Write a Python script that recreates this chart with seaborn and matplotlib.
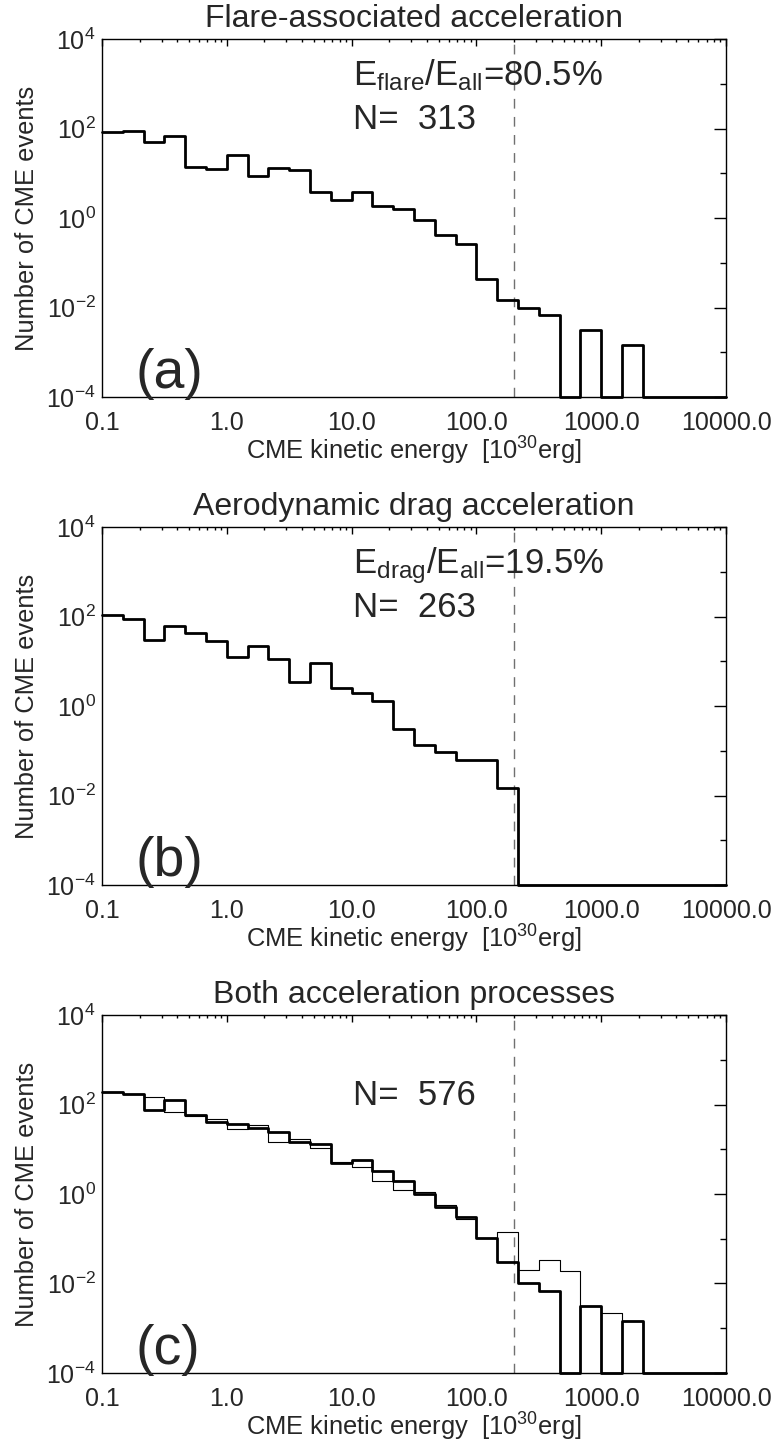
import numpy as np
import matplotlib
matplotlib.use("Agg")
import matplotlib.pyplot as plt
import seaborn as sns
from matplotlib.ticker import FixedLocator, FixedFormatter, LogLocator, NullFormatter

# energy bins, 6 per decade, in 10^30 erg
edges = [0.1, 0.1468, 0.2154, 0.3162, 0.4642, 0.6813,
         1.0, 1.468, 2.154, 3.162, 4.642, 6.813,
         10.0, 14.68, 21.54, 31.62, 46.42, 68.13,
         100.0, 146.8, 215.4, 316.2, 464.2, 681.3,
         1000.0, 1468.0, 2154.0, 3162.0, 4642.0, 6813.0, 10000.0]

# (a) flare-associated
flare_vals = [83, 87, 49.5, 68.5, 13.9, 12.6, 26, 8.6, 13.2, 11.9,
              3.8, 2.5, 3.9, 1.9, 1.6, 0.9, 0.42, 0.26, 0.0435, 0.0144,
              0.010, 0.0067, 0, 0.0031, 0, 0.00144, 0, 0, 0, 0]
# (b) aerodynamic drag
drag_vals = [107, 88.7, 30, 62.8, 42.3, 28.5, 12.7, 22.4, 11.2, 3.4,
             9.3, 2.5, 1.96, 1.32, 0.30, 0.134, 0.092, 0.063, 0.062, 0.0146,
             0, 0, 0, 0, 0, 0, 0, 0, 0, 0]
# (c) both, thick and thin
both_vals = [186, 174, 77.3, 129, 58.8, 41, 37.6, 30.6, 24, 14.9,
             12.9, 4.94, 5.7, 3.2, 1.93, 1.0, 0.50, 0.31, 0.106, 0.030,
             0.0101, 0.0069, 0, 0.00315, 0, 0.00148, 0, 0, 0, 0]
both_thin_vals = [190, 172, 148, 68.5, 55.8, 48.6, 28.5, 35.6, 14.9, 17.4,
                  10.9, 5.3, 4.0, 1.95, 1.22, 1.09, 0.57, 0.27, 0.106, 0.144,
                  0.020, 0.0336, 0.019, 0.00315, 0.00216, 0.00148, 0, 0, 0, 0]

titles = ["Flare-associated acceleration", "Aerodynamic drag acceleration",
          "Both acceleration processes"]
ratio_texts = [r"E$_{\mathrm{flare}}$/E$_{\mathrm{all}}$=80.5%",
               r"E$_{\mathrm{drag}}$/E$_{\mathrm{all}}$=19.5%", None]
n_texts = ["N=  313", "N=  263", "N=  576"]
panel_labels = ["(a)", "(b)", "(c)"]
e_limit = 200.0

x_ticks = [0.1, 1.0, 10.0, 100.0, 1000.0, 10000.0]
x_tick_labels = ["0.1", "1.0", "10.0", "100.0", "1000.0", "10000.0"]
y_ticks = [1e-4, 1e-2, 1e0, 1e2, 1e4]
y_tick_labels = [r"$10^{-4}$", r"$10^{-2}$", r"$10^{0}$", r"$10^{2}$", r"$10^{4}$"]
y_minor = [1e-3, 1e-1, 1e1, 1e3]
YMIN, YMAX = 1e-4, 1e4

sns.set_style("white")
plt.rcParams["font.family"] = ["Liberation Sans", "DejaVu Sans"]
plt.rcParams["mathtext.fontset"] = "custom"
plt.rcParams["mathtext.rm"] = "Liberation Sans"
plt.rcParams["mathtext.it"] = "Liberation Sans:italic"
plt.rcParams["mathtext.bf"] = "Liberation Sans:bold"


def draw_hist(ax, vals, lw):
    # values below the axis floor are drawn on the floor, like IDL does
    y = np.clip(np.append(vals, vals[-1]), YMIN, None)
    sns.lineplot(x=edges, y=y, drawstyle="steps-post", color="black", lw=lw,
                 estimator=None, ax=ax, clip_on=False, zorder=3)


fig = plt.figure(figsize=(7.74, 14.41), dpi=100)
bottoms = [0.7245, 0.3858, 0.0472]
series = [[(flare_vals, 2.0)], [(drag_vals, 2.0)],
          [(both_thin_vals, 0.8), (both_vals, 2.0)]]

for i in range(3):
    ax = fig.add_axes([0.1318, bottoms[i], 0.8062, 0.2484])
    for vals, lw in series[i]:
        draw_hist(ax, vals, lw)
    ax.axvline(e_limit, color="#707070", lw=1.0, ls=(0, (7, 6)), zorder=2)

    ax.set_xscale("log")
    ax.set_yscale("log")
    ax.set_xlim(0.1, 10000)
    ax.set_ylim(YMIN, YMAX)
    ax.xaxis.set_major_locator(FixedLocator(x_ticks))
    ax.xaxis.set_major_formatter(FixedFormatter(x_tick_labels))
    ax.xaxis.set_minor_locator(LogLocator(subs=np.arange(2, 10)))
    ax.xaxis.set_minor_formatter(NullFormatter())
    ax.yaxis.set_major_locator(FixedLocator(y_ticks))
    ax.yaxis.set_major_formatter(FixedFormatter(y_tick_labels))
    ax.yaxis.set_minor_locator(FixedLocator(y_minor))
    ax.yaxis.set_minor_formatter(NullFormatter())
    ax.tick_params(which="both", direction="in", top=True, right=True,
                   color="black", width=1.0, labelsize=18)
    ax.tick_params(axis="x", which="major", length=5, pad=10)
    ax.tick_params(axis="x", which="minor", length=2.5)
    ax.tick_params(axis="y", which="major", length=9, pad=4.5)
    ax.tick_params(axis="y", which="minor", length=4.5)
    for sp in ax.spines.values():
        sp.set_color("black")
        sp.set_linewidth(1.0)

    ax.set_title(titles[i], fontsize=23, pad=9)
    ax.set_xlabel(r"CME kinetic energy  [10$^{30}$erg]", fontsize=18.4, labelpad=0)
    ax.set_ylabel("Number of CME events", fontsize=18.4, labelpad=5)

    if ratio_texts[i]:
        ax.text(0.402, 0.8715, ratio_texts[i], transform=ax.transAxes,
                fontsize=25, va="baseline", ha="left")
    ax.text(0.402, 0.748, n_texts[i], transform=ax.transAxes,
            fontsize=25, va="baseline", ha="left")
    ax.text(0.053, 0.025, panel_labels[i], transform=ax.transAxes,
            fontsize=40, va="baseline", ha="left")

fig.savefig("out.png", dpi=100)
